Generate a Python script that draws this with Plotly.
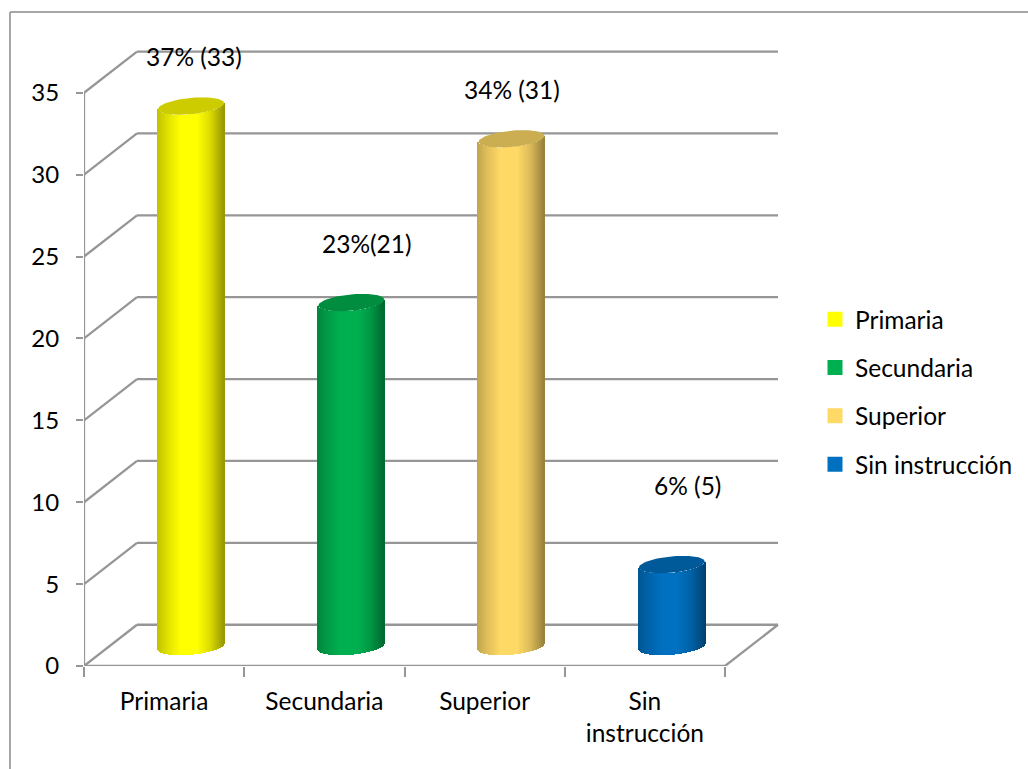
import numpy as np
import plotly.graph_objects as go

categories = ["Primaria", "Secundaria", "Superior", "Sin instrucción"]
tick_labels = ["Primaria", "Secundaria", "Superior", "Sin<br>instrucción"]
values = [33, 21, 31, 5]
labels = ["37% (33)", "23%(21)", "34% (31)", "6% (5)"]
colors = ["#ffff00", "#00b050", "#ffd966", "#0070c0"]
y_ticks = [0, 5, 10, 15, 20, 25, 30, 35]

# layout geometry (pixels of the page)
W, H = 1028, 769
L, R, T, B = 84, 780, 40, 666.5
PX_X = 160.25          # px per category
PX_Y = 16.39           # px per value unit
DX, DY = 53 / PX_X, 41.3 / PX_Y   # depth of the 3D box in axis units
CX = 0.668             # bar centre within its category
FLOOR = 19.5 / PX_Y    # where the bar centre sits above the front floor edge
RX, RY, TILT = 33 / PX_X, 8.2 / PX_Y, 3 / PX_Y
label_shift = [(3, 50), (16, 59), (0, 49), (16, 79)]
GRID = "#969696"


def shade(hex_color, f):
    r, g, b = (int(hex_color[i:i + 2], 16) for i in (1, 3, 5))
    return f"rgb({r * f:.0f},{g * f:.0f},{b * f:.0f})"


fig = go.Figure()
u = np.linspace(-1, 1, 67)
shade_f = np.interp(u, [-1, -0.7, -0.3, 0.2, 0.6, 1], [0.76, 0.88, 1, 1, 0.86, 0.6])

for i, (v, c) in enumerate(zip(values, colors)):
    lower = TILT * u - RY * np.sqrt(1 - u ** 2)
    fig.add_bar(
        x=i + CX + RX * u, y=[v] * len(u), base=FLOOR + lower,
        width=1.6 / PX_X, marker=dict(color=[shade(c, f) for f in shade_f], line_width=0),
        showlegend=False, hoverinfo="skip",
    )
    t = np.linspace(0, 2 * np.pi, 80)
    fig.add_scatter(
        x=i + CX + RX * np.cos(t),
        y=v + FLOOR + TILT * np.cos(t) + RY * np.sin(t),
        mode="lines", fill="toself", fillcolor=shade(c, 0.8),
        line=dict(width=0), showlegend=False, hoverinfo="skip",
    )

# legend entries
for cat, c in zip(categories, colors):
    fig.add_scatter(
        x=[None], y=[None], mode="markers", name=cat, legendgroup=cat,
        marker=dict(symbol="square", size=15, color=c),
    )

n = len(categories)
line = dict(color=GRID, width=2.3)
shapes = []
for yv in y_ticks[1:]:
    shapes.append(dict(type="line", xref="x", yref="y", x0=0, y0=yv, x1=DX, y1=yv + DY, line=line, layer="below"))
    shapes.append(dict(type="line", xref="x", yref="y", x0=DX, y0=yv + DY, x1=n + DX, y1=yv + DY, line=line, layer="below"))
# floor and axes
for x0, y0, x1, y1 in [(0, 0, DX, DY), (DX, DY, n + DX, DY), (n, 0, n + DX, DY), (0, 0, n, 0), (0, 0, 0, y_ticks[-1])]:
    shapes.append(dict(type="line", xref="x", yref="y", x0=x0, y0=y0, x1=x1, y1=y1, line=line, layer="below"))
# outer frame
pw, ph = R - L, B - T
fx0, fy1 = (10 - L) / pw, (B - 12) / ph
shapes.append(dict(type="line", xref="paper", yref="paper", x0=fx0, y0=fy1, x1=(W + 5 - L) / pw, y1=fy1,
                   line=dict(color="#a6a6a6", width=2)))
shapes.append(dict(type="line", xref="paper", yref="paper", x0=fx0, y0=fy1, x1=fx0, y1=(B - H - 5) / ph,
                   line=dict(color="#a6a6a6", width=2)))

annotations = [
    dict(x=i + CX, y=v + FLOOR, text=t, showarrow=False, xshift=s[0], yshift=s[1],
         font=dict(size=24.5, color="#000000"))
    for i, (v, t, s) in enumerate(zip(values, labels, label_shift))
]

fig.update_layout(
    width=W, height=H,
    margin=dict(l=L, r=W - R, t=T, b=H - B, autoexpand=False),
    paper_bgcolor="white", plot_bgcolor="white",
    font=dict(family="Lato, Open Sans, sans-serif", size=24.5, color="#000000"),
    barmode="overlay", bargap=0,
    shapes=shapes, annotations=annotations,
    xaxis=dict(
        range=[0, pw / PX_X], showgrid=False, zeroline=False, showline=False,
        tickmode="array", tickvals=[i + 0.5 for i in range(n)], ticktext=tick_labels,
        ticks="outside", ticklen=0, ticklabelstandoff=14,
        minor=dict(tickmode="array", tickvals=list(range(n + 1)), ticks="outside",
                   ticklen=10, tickwidth=2, tickcolor=GRID),
    ),
    yaxis=dict(
        range=[0, ph / PX_Y], showgrid=False, zeroline=False, showline=False,
        tickmode="array", tickvals=y_ticks, ticks="outside", ticklen=7, tickwidth=2,
        tickcolor=GRID, ticklabelstandoff=12, tickfont=dict(size=24),
    ),
    legend=dict(x=(815 - L) / pw, xanchor="left", y=(B - 392) / ph, yanchor="middle",
                tracegroupgap=13.5, bgcolor="rgba(0,0,0,0)", itemclick=False, itemdoubleclick=False),
)

fig.write_html("out.html", config={"displayModeBar": False},
               post_script="document.body.style.margin='0';document.body.style.overflow='hidden';")
